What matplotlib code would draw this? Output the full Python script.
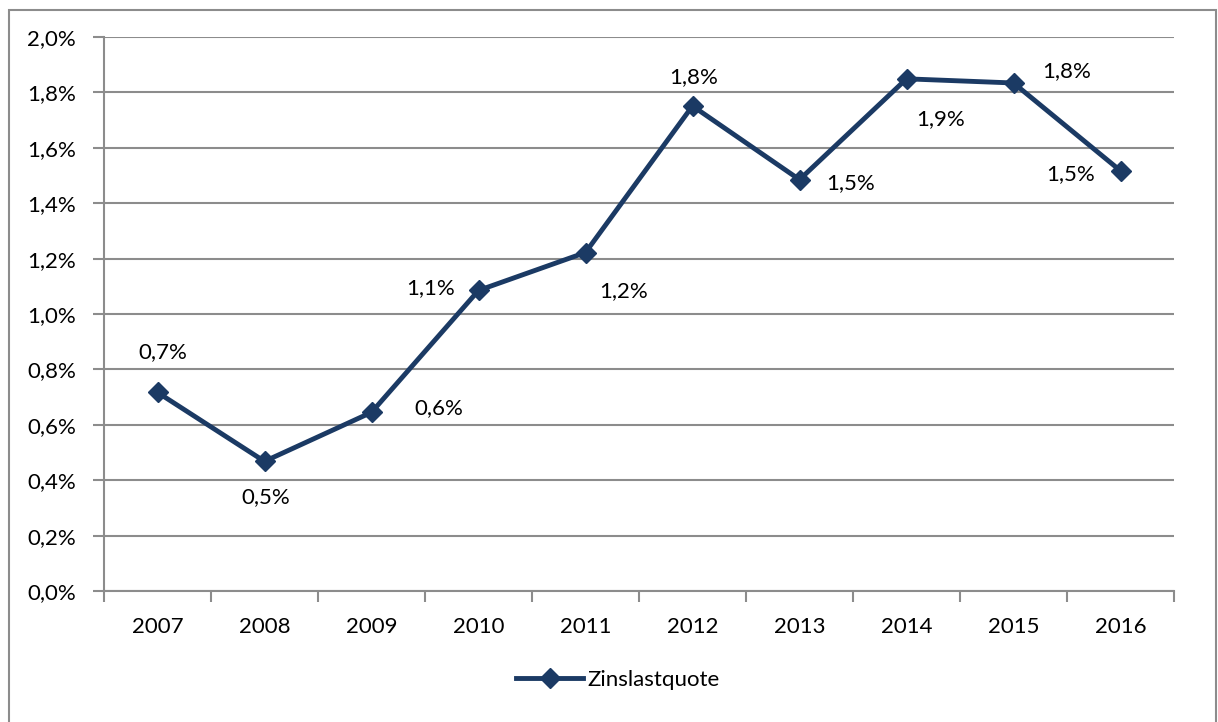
import numpy as np
import matplotlib.pyplot as plt
from matplotlib.ticker import FuncFormatter, FixedLocator

plt.rcParams['font.family'] = ['Lato', 'DejaVu Sans']

years = ['2007', '2008', '2009', '2010', '2011', '2012', '2013', '2014', '2015', '2016']
zinslastquote = [0.717, 0.468, 0.645, 1.085, 1.222, 1.751, 1.485, 1.849, 1.834, 1.517]
labels = ['0,7%', '0,5%', '0,6%', '1,1%', '1,2%', '1,8%', '1,5%', '1,9%', '1,8%', '1,5%']

# label offsets in pixels (dx, dy), Excel-style placement
offsets = [(5, 40), (1, -36), (67, 4), (-48, 2), (38, -39), (1, 29), (51, -3), (34, -40), (53, 12), (-50, -3)]

navy = '#1B3A64'
grid = '#8C8C8C'
fs = 16

fig = plt.figure(figsize=(12.18, 7.22), dpi=100)
ax = fig.add_axes([104/1218, 1-591/722, 1070/1218, 554/722])

x = np.arange(len(years))
ax.plot(x, zinslastquote, color=navy, lw=3.5, marker='D', ms=10, label='Zinslastquote', zorder=3)

for xi, yi, lab, (dx, dy) in zip(x, zinslastquote, labels, offsets):
    ax.annotate(lab, (xi, yi), xytext=(dx, dy), textcoords='offset pixels',
                ha='center', va='center', fontsize=fs)

ax.set_xlim(-0.5, len(years) - 0.5)
ax.set_ylim(0, 2.0)
ax.set_yticks(np.arange(0, 2.01, 0.2))
ax.yaxis.set_major_formatter(FuncFormatter(lambda v, p: f"{v:.1f}%".replace('.', ',')))
ax.yaxis.grid(True, color=grid, lw=1.5)
ax.set_axisbelow(True)

ax.set_xticks(x)
ax.set_xticklabels(years)
ax.tick_params(axis='x', length=0, pad=19, labelsize=fs)
ax.xaxis.set_minor_locator(FixedLocator(np.arange(-0.5, len(years), 1.0)))
ax.tick_params(axis='x', which='minor', length=8, width=1.5, color=grid, direction='out')
ax.tick_params(axis='y', length=8, width=1.5, color=grid, labelsize=fs, pad=12)

for s in ['top', 'right']:
    ax.spines[s].set_visible(False)
for s in ['left', 'bottom']:
    ax.spines[s].set_color(grid)
    ax.spines[s].set_linewidth(1.5)

fig.legend(loc='center', bbox_to_anchor=(618/1218, 1-680/722), frameon=False,
           fontsize=fs, handlelength=3, handletextpad=0.2)

# outer chart border
fig.add_artist(plt.Rectangle((9/1218, -0.01), 1207/1218, 1-10/722 + 0.01, transform=fig.transFigure,
                             fill=False, edgecolor='#8C8C8C', lw=1.5))

plt.savefig('out.png', dpi=100)
